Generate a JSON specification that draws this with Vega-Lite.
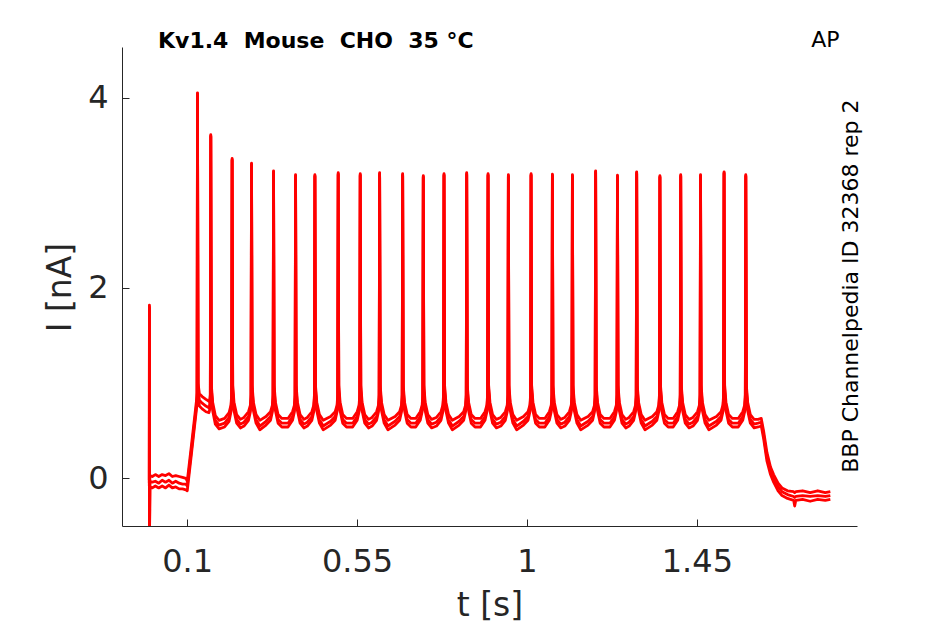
{
  "$schema": "https://vega.github.io/schema/vega-lite/v6.json",
  "width": 735,
  "height": 479,
  "autosize": "none",
  "padding": {"left": 122, "top": 47, "right": 88, "bottom": 98},
  "background": "white",
  "title": {
    "text": "Kv1.4\u00a0 Mouse\u00a0 CHO\u00a0 35 °C",
    "anchor": "start",
    "frame": "group",
    "dx": 36,
    "offset": -41,
    "baseline": "alphabetic",
    "font": "DejaVu Sans",
    "fontSize": 22,
    "fontWeight": "bold",
    "color": "#000000"
  },
  "config": {
    "view": {"stroke": null},
    "axis": {
      "grid": false,
      "domainColor": "#262626",
      "domainWidth": 1,
      "tickColor": "#262626",
      "tickWidth": 1,
      "tickSize": -7,
      "labelColor": "#262626",
      "titleColor": "#262626",
      "labelFont": "DejaVu Sans",
      "titleFont": "DejaVu Sans",
      "labelFontSize": 32,
      "titleFontSize": 33,
      "titleFontWeight": "normal",
      "labelFlush": false
    }
  },
  "layer": [
    {
      "data": {
        "values": [
          {"t": 0, "a": -0.02, "b": -0.05, "c": -0.08},
          {"t": 0.0003, "a": 1.82, "b": 1.8, "c": 1.78},
          {"t": 0.0007, "a": -0.55, "b": -0.55, "c": -0.55},
          {"t": 0.0015, "a": 0.03, "b": -0.03, "c": -0.09},
          {"t": 0.008, "a": 0.02, "b": -0.04, "c": -0.1},
          {"t": 0.016, "a": 0.04, "b": -0.03, "c": -0.08},
          {"t": 0.025, "a": 0.02, "b": -0.05, "c": -0.1},
          {"t": 0.034, "a": 0.04, "b": -0.02, "c": -0.08},
          {"t": 0.043, "a": 0.03, "b": -0.04, "c": -0.1},
          {"t": 0.052, "a": 0.05, "b": -0.02, "c": -0.07},
          {"t": 0.061, "a": 0.02, "b": -0.05, "c": -0.1},
          {"t": 0.07, "a": 0.03, "b": -0.03, "c": -0.09},
          {"t": 0.079, "a": 0.02, "b": -0.05, "c": -0.11},
          {"t": 0.088, "a": 0.01, "b": -0.06, "c": -0.11},
          {"t": 0.097, "a": 0.0, "b": -0.06, "c": -0.12},
          {"t": 0.1005, "a": -0.03, "b": -0.08, "c": -0.13},
          {"t": 0.1125, "a": 0.38, "b": 0.33, "c": 0.29},
          {"t": 0.125, "a": 0.82, "b": 0.77, "c": 0.73},
          {"t": 0.1266, "a": 0.9, "b": 0.86, "c": 0.83},
          {"t": 0.1276, "a": 4.05, "b": 4.04, "c": 4.03},
          {"t": 0.1291, "a": 1.0, "b": 0.95, "c": 0.9},
          {"t": 0.1326, "a": 0.89, "b": 0.82, "c": 0.76},
          {"t": 0.14, "a": 0.86, "b": 0.79, "c": 0.73},
          {"t": 0.15, "a": 0.83, "b": 0.76, "c": 0.7},
          {"t": 0.158, "a": 0.81, "b": 0.74, "c": 0.69},
          {"t": 0.1598, "a": 0.82, "b": 0.76, "c": 0.72},
          {"t": 0.1616, "a": 0.88, "b": 0.85, "c": 0.82},
          {"t": 0.1628, "a": 3.61, "b": 3.6, "c": 3.59},
          {"t": 0.1643, "a": 0.98, "b": 0.94, "c": 0.9},
          {"t": 0.1678, "a": 0.8, "b": 0.75, "c": 0.71},
          {"t": 0.1748, "a": 0.66, "b": 0.61, "c": 0.57},
          {"t": 0.1848, "a": 0.61, "b": 0.56, "c": 0.52},
          {"t": 0.1993, "a": 0.63, "b": 0.58, "c": 0.54},
          {"t": 0.2113, "a": 0.69, "b": 0.64, "c": 0.6},
          {"t": 0.2163, "a": 0.77, "b": 0.73, "c": 0.7},
          {"t": 0.2181, "a": 0.88, "b": 0.85, "c": 0.82},
          {"t": 0.2193, "a": 3.36, "b": 3.35, "c": 3.34},
          {"t": 0.2208, "a": 0.98, "b": 0.94, "c": 0.9},
          {"t": 0.2243, "a": 0.8, "b": 0.75, "c": 0.71},
          {"t": 0.2313, "a": 0.67, "b": 0.62, "c": 0.58},
          {"t": 0.2413, "a": 0.62, "b": 0.57, "c": 0.53},
          {"t": 0.2507, "a": 0.64, "b": 0.59, "c": 0.55},
          {"t": 0.2627, "a": 0.7, "b": 0.65, "c": 0.61},
          {"t": 0.2677, "a": 0.77, "b": 0.73, "c": 0.7},
          {"t": 0.2695, "a": 0.88, "b": 0.85, "c": 0.82},
          {"t": 0.2707, "a": 3.31, "b": 3.3, "c": 3.29},
          {"t": 0.2722, "a": 0.98, "b": 0.94, "c": 0.9},
          {"t": 0.2757, "a": 0.8, "b": 0.75, "c": 0.71},
          {"t": 0.2827, "a": 0.67, "b": 0.62, "c": 0.58},
          {"t": 0.2927, "a": 0.61, "b": 0.55, "c": 0.51},
          {"t": 0.309, "a": 0.65, "b": 0.6, "c": 0.56},
          {"t": 0.321, "a": 0.7, "b": 0.65, "c": 0.61},
          {"t": 0.326, "a": 0.77, "b": 0.73, "c": 0.7},
          {"t": 0.3278, "a": 0.88, "b": 0.85, "c": 0.82},
          {"t": 0.329, "a": 3.23, "b": 3.22, "c": 3.21},
          {"t": 0.3305, "a": 0.98, "b": 0.94, "c": 0.9},
          {"t": 0.334, "a": 0.8, "b": 0.75, "c": 0.71},
          {"t": 0.341, "a": 0.67, "b": 0.62, "c": 0.58},
          {"t": 0.351, "a": 0.63, "b": 0.58, "c": 0.54},
          {"t": 0.3673, "a": 0.63, "b": 0.58, "c": 0.54},
          {"t": 0.3793, "a": 0.7, "b": 0.65, "c": 0.61},
          {"t": 0.3843, "a": 0.77, "b": 0.73, "c": 0.7},
          {"t": 0.3861, "a": 0.88, "b": 0.85, "c": 0.82},
          {"t": 0.3873, "a": 3.19, "b": 3.18, "c": 3.17},
          {"t": 0.3888, "a": 0.98, "b": 0.94, "c": 0.9},
          {"t": 0.3923, "a": 0.8, "b": 0.75, "c": 0.71},
          {"t": 0.3993, "a": 0.67, "b": 0.62, "c": 0.58},
          {"t": 0.4093, "a": 0.62, "b": 0.57, "c": 0.53},
          {"t": 0.4185, "a": 0.64, "b": 0.59, "c": 0.55},
          {"t": 0.4305, "a": 0.7, "b": 0.65, "c": 0.61},
          {"t": 0.4355, "a": 0.77, "b": 0.73, "c": 0.7},
          {"t": 0.4373, "a": 0.88, "b": 0.85, "c": 0.82},
          {"t": 0.4385, "a": 3.19, "b": 3.18, "c": 3.17},
          {"t": 0.44, "a": 0.98, "b": 0.94, "c": 0.9},
          {"t": 0.4435, "a": 0.8, "b": 0.75, "c": 0.71},
          {"t": 0.4505, "a": 0.67, "b": 0.62, "c": 0.58},
          {"t": 0.4605, "a": 0.61, "b": 0.55, "c": 0.51},
          {"t": 0.4802, "a": 0.65, "b": 0.6, "c": 0.56},
          {"t": 0.4922, "a": 0.7, "b": 0.65, "c": 0.61},
          {"t": 0.4972, "a": 0.77, "b": 0.73, "c": 0.7},
          {"t": 0.499, "a": 0.88, "b": 0.85, "c": 0.82},
          {"t": 0.5002, "a": 3.21, "b": 3.2, "c": 3.19},
          {"t": 0.5017, "a": 0.98, "b": 0.94, "c": 0.9},
          {"t": 0.5052, "a": 0.8, "b": 0.75, "c": 0.71},
          {"t": 0.5122, "a": 0.67, "b": 0.62, "c": 0.58},
          {"t": 0.5222, "a": 0.63, "b": 0.58, "c": 0.54},
          {"t": 0.5385, "a": 0.63, "b": 0.58, "c": 0.54},
          {"t": 0.5505, "a": 0.7, "b": 0.65, "c": 0.61},
          {"t": 0.5555, "a": 0.77, "b": 0.73, "c": 0.7},
          {"t": 0.5573, "a": 0.88, "b": 0.85, "c": 0.82},
          {"t": 0.5585, "a": 3.2, "b": 3.19, "c": 3.18},
          {"t": 0.56, "a": 0.98, "b": 0.94, "c": 0.9},
          {"t": 0.5635, "a": 0.8, "b": 0.75, "c": 0.71},
          {"t": 0.5705, "a": 0.67, "b": 0.62, "c": 0.58},
          {"t": 0.5805, "a": 0.62, "b": 0.57, "c": 0.53},
          {"t": 0.5899, "a": 0.64, "b": 0.59, "c": 0.55},
          {"t": 0.6019, "a": 0.7, "b": 0.65, "c": 0.61},
          {"t": 0.6069, "a": 0.77, "b": 0.73, "c": 0.7},
          {"t": 0.6087, "a": 0.88, "b": 0.85, "c": 0.82},
          {"t": 0.6099, "a": 3.21, "b": 3.2, "c": 3.19},
          {"t": 0.6114, "a": 0.98, "b": 0.94, "c": 0.9},
          {"t": 0.6149, "a": 0.8, "b": 0.75, "c": 0.71},
          {"t": 0.6219, "a": 0.67, "b": 0.62, "c": 0.58},
          {"t": 0.6319, "a": 0.61, "b": 0.55, "c": 0.51},
          {"t": 0.6509, "a": 0.65, "b": 0.6, "c": 0.56},
          {"t": 0.6629, "a": 0.7, "b": 0.65, "c": 0.61},
          {"t": 0.6679, "a": 0.77, "b": 0.73, "c": 0.7},
          {"t": 0.6697, "a": 0.88, "b": 0.85, "c": 0.82},
          {"t": 0.6709, "a": 3.2, "b": 3.19, "c": 3.18},
          {"t": 0.6724, "a": 0.98, "b": 0.94, "c": 0.9},
          {"t": 0.6759, "a": 0.8, "b": 0.75, "c": 0.71},
          {"t": 0.6829, "a": 0.67, "b": 0.62, "c": 0.58},
          {"t": 0.6929, "a": 0.63, "b": 0.58, "c": 0.54},
          {"t": 0.7055, "a": 0.63, "b": 0.58, "c": 0.54},
          {"t": 0.7175, "a": 0.7, "b": 0.65, "c": 0.61},
          {"t": 0.7225, "a": 0.77, "b": 0.73, "c": 0.7},
          {"t": 0.7243, "a": 0.88, "b": 0.85, "c": 0.82},
          {"t": 0.7255, "a": 3.18, "b": 3.17, "c": 3.16},
          {"t": 0.727, "a": 0.98, "b": 0.94, "c": 0.9},
          {"t": 0.7305, "a": 0.8, "b": 0.75, "c": 0.71},
          {"t": 0.7375, "a": 0.67, "b": 0.62, "c": 0.58},
          {"t": 0.7475, "a": 0.62, "b": 0.57, "c": 0.53},
          {"t": 0.7604, "a": 0.64, "b": 0.59, "c": 0.55},
          {"t": 0.7724, "a": 0.7, "b": 0.65, "c": 0.61},
          {"t": 0.7774, "a": 0.77, "b": 0.73, "c": 0.7},
          {"t": 0.7792, "a": 0.88, "b": 0.85, "c": 0.82},
          {"t": 0.7804, "a": 3.2, "b": 3.19, "c": 3.18},
          {"t": 0.7819, "a": 0.98, "b": 0.94, "c": 0.9},
          {"t": 0.7854, "a": 0.8, "b": 0.75, "c": 0.71},
          {"t": 0.7924, "a": 0.67, "b": 0.62, "c": 0.58},
          {"t": 0.8024, "a": 0.61, "b": 0.55, "c": 0.51},
          {"t": 0.8205, "a": 0.65, "b": 0.6, "c": 0.56},
          {"t": 0.8325, "a": 0.7, "b": 0.65, "c": 0.61},
          {"t": 0.8375, "a": 0.77, "b": 0.73, "c": 0.7},
          {"t": 0.8393, "a": 0.88, "b": 0.85, "c": 0.82},
          {"t": 0.8405, "a": 3.21, "b": 3.2, "c": 3.19},
          {"t": 0.842, "a": 0.98, "b": 0.94, "c": 0.9},
          {"t": 0.8455, "a": 0.8, "b": 0.75, "c": 0.71},
          {"t": 0.8525, "a": 0.67, "b": 0.62, "c": 0.58},
          {"t": 0.8625, "a": 0.63, "b": 0.58, "c": 0.54},
          {"t": 0.877, "a": 0.63, "b": 0.58, "c": 0.54},
          {"t": 0.889, "a": 0.7, "b": 0.65, "c": 0.61},
          {"t": 0.894, "a": 0.77, "b": 0.73, "c": 0.7},
          {"t": 0.8958, "a": 0.88, "b": 0.85, "c": 0.82},
          {"t": 0.897, "a": 3.2, "b": 3.19, "c": 3.18},
          {"t": 0.8985, "a": 0.98, "b": 0.94, "c": 0.9},
          {"t": 0.902, "a": 0.8, "b": 0.75, "c": 0.71},
          {"t": 0.909, "a": 0.67, "b": 0.62, "c": 0.58},
          {"t": 0.919, "a": 0.62, "b": 0.57, "c": 0.53},
          {"t": 0.9308, "a": 0.64, "b": 0.59, "c": 0.55},
          {"t": 0.9428, "a": 0.7, "b": 0.65, "c": 0.61},
          {"t": 0.9478, "a": 0.77, "b": 0.73, "c": 0.7},
          {"t": 0.9496, "a": 0.88, "b": 0.85, "c": 0.82},
          {"t": 0.9508, "a": 3.19, "b": 3.18, "c": 3.17},
          {"t": 0.9523, "a": 0.98, "b": 0.94, "c": 0.9},
          {"t": 0.9558, "a": 0.8, "b": 0.75, "c": 0.71},
          {"t": 0.9628, "a": 0.67, "b": 0.62, "c": 0.58},
          {"t": 0.9728, "a": 0.61, "b": 0.55, "c": 0.51},
          {"t": 0.9909, "a": 0.65, "b": 0.6, "c": 0.56},
          {"t": 1.0029, "a": 0.7, "b": 0.65, "c": 0.61},
          {"t": 1.0079, "a": 0.77, "b": 0.73, "c": 0.7},
          {"t": 1.0097, "a": 0.88, "b": 0.85, "c": 0.82},
          {"t": 1.0109, "a": 3.2, "b": 3.19, "c": 3.18},
          {"t": 1.0124, "a": 0.98, "b": 0.94, "c": 0.9},
          {"t": 1.0159, "a": 0.8, "b": 0.75, "c": 0.71},
          {"t": 1.0229, "a": 0.67, "b": 0.62, "c": 0.58},
          {"t": 1.0329, "a": 0.63, "b": 0.58, "c": 0.54},
          {"t": 1.0474, "a": 0.63, "b": 0.58, "c": 0.54},
          {"t": 1.0594, "a": 0.7, "b": 0.65, "c": 0.61},
          {"t": 1.0644, "a": 0.77, "b": 0.73, "c": 0.7},
          {"t": 1.0662, "a": 0.88, "b": 0.85, "c": 0.82},
          {"t": 1.0674, "a": 3.195, "b": 3.185, "c": 3.175},
          {"t": 1.0689, "a": 0.98, "b": 0.94, "c": 0.9},
          {"t": 1.0724, "a": 0.8, "b": 0.75, "c": 0.71},
          {"t": 1.0794, "a": 0.67, "b": 0.62, "c": 0.58},
          {"t": 1.0894, "a": 0.62, "b": 0.57, "c": 0.53},
          {"t": 1.1004, "a": 0.64, "b": 0.59, "c": 0.55},
          {"t": 1.1124, "a": 0.7, "b": 0.65, "c": 0.61},
          {"t": 1.1174, "a": 0.77, "b": 0.73, "c": 0.7},
          {"t": 1.1192, "a": 0.88, "b": 0.85, "c": 0.82},
          {"t": 1.1204, "a": 3.19, "b": 3.18, "c": 3.17},
          {"t": 1.1219, "a": 0.98, "b": 0.94, "c": 0.9},
          {"t": 1.1254, "a": 0.8, "b": 0.75, "c": 0.71},
          {"t": 1.1324, "a": 0.67, "b": 0.62, "c": 0.58},
          {"t": 1.1424, "a": 0.61, "b": 0.55, "c": 0.51},
          {"t": 1.1619, "a": 0.65, "b": 0.6, "c": 0.56},
          {"t": 1.1739, "a": 0.7, "b": 0.65, "c": 0.61},
          {"t": 1.1789, "a": 0.77, "b": 0.73, "c": 0.7},
          {"t": 1.1807, "a": 0.88, "b": 0.85, "c": 0.82},
          {"t": 1.1819, "a": 3.23, "b": 3.22, "c": 3.21},
          {"t": 1.1834, "a": 0.98, "b": 0.94, "c": 0.9},
          {"t": 1.1869, "a": 0.8, "b": 0.75, "c": 0.71},
          {"t": 1.1939, "a": 0.67, "b": 0.62, "c": 0.58},
          {"t": 1.2039, "a": 0.63, "b": 0.58, "c": 0.54},
          {"t": 1.2197, "a": 0.63, "b": 0.58, "c": 0.54},
          {"t": 1.2317, "a": 0.7, "b": 0.65, "c": 0.61},
          {"t": 1.2367, "a": 0.77, "b": 0.73, "c": 0.7},
          {"t": 1.2385, "a": 0.88, "b": 0.85, "c": 0.82},
          {"t": 1.2397, "a": 3.185, "b": 3.175, "c": 3.165},
          {"t": 1.2412, "a": 0.98, "b": 0.94, "c": 0.9},
          {"t": 1.2447, "a": 0.8, "b": 0.75, "c": 0.71},
          {"t": 1.2517, "a": 0.67, "b": 0.62, "c": 0.58},
          {"t": 1.2617, "a": 0.62, "b": 0.57, "c": 0.53},
          {"t": 1.2706, "a": 0.64, "b": 0.59, "c": 0.55},
          {"t": 1.2826, "a": 0.7, "b": 0.65, "c": 0.61},
          {"t": 1.2876, "a": 0.77, "b": 0.73, "c": 0.7},
          {"t": 1.2894, "a": 0.88, "b": 0.85, "c": 0.82},
          {"t": 1.2906, "a": 3.22, "b": 3.21, "c": 3.2},
          {"t": 1.2921, "a": 0.98, "b": 0.94, "c": 0.9},
          {"t": 1.2956, "a": 0.8, "b": 0.75, "c": 0.71},
          {"t": 1.3026, "a": 0.67, "b": 0.62, "c": 0.58},
          {"t": 1.3126, "a": 0.61, "b": 0.55, "c": 0.51},
          {"t": 1.3321, "a": 0.65, "b": 0.6, "c": 0.56},
          {"t": 1.3441, "a": 0.7, "b": 0.65, "c": 0.61},
          {"t": 1.3491, "a": 0.77, "b": 0.73, "c": 0.7},
          {"t": 1.3509, "a": 0.88, "b": 0.85, "c": 0.82},
          {"t": 1.3521, "a": 3.18, "b": 3.17, "c": 3.16},
          {"t": 1.3536, "a": 0.98, "b": 0.94, "c": 0.9},
          {"t": 1.3571, "a": 0.8, "b": 0.75, "c": 0.71},
          {"t": 1.3641, "a": 0.67, "b": 0.62, "c": 0.58},
          {"t": 1.3741, "a": 0.63, "b": 0.58, "c": 0.54},
          {"t": 1.3872, "a": 0.63, "b": 0.58, "c": 0.54},
          {"t": 1.3992, "a": 0.7, "b": 0.65, "c": 0.61},
          {"t": 1.4042, "a": 0.77, "b": 0.73, "c": 0.7},
          {"t": 1.406, "a": 0.88, "b": 0.85, "c": 0.82},
          {"t": 1.4072, "a": 3.19, "b": 3.18, "c": 3.17},
          {"t": 1.4087, "a": 0.98, "b": 0.94, "c": 0.9},
          {"t": 1.4122, "a": 0.8, "b": 0.75, "c": 0.71},
          {"t": 1.4192, "a": 0.67, "b": 0.62, "c": 0.58},
          {"t": 1.4292, "a": 0.62, "b": 0.57, "c": 0.53},
          {"t": 1.4397, "a": 0.64, "b": 0.59, "c": 0.55},
          {"t": 1.4517, "a": 0.7, "b": 0.65, "c": 0.61},
          {"t": 1.4567, "a": 0.77, "b": 0.73, "c": 0.7},
          {"t": 1.4585, "a": 0.88, "b": 0.85, "c": 0.82},
          {"t": 1.4597, "a": 3.19, "b": 3.18, "c": 3.17},
          {"t": 1.4612, "a": 0.98, "b": 0.94, "c": 0.9},
          {"t": 1.4647, "a": 0.8, "b": 0.75, "c": 0.71},
          {"t": 1.4717, "a": 0.67, "b": 0.62, "c": 0.58},
          {"t": 1.4817, "a": 0.61, "b": 0.55, "c": 0.51},
          {"t": 1.502, "a": 0.65, "b": 0.6, "c": 0.56},
          {"t": 1.514, "a": 0.7, "b": 0.65, "c": 0.61},
          {"t": 1.519, "a": 0.77, "b": 0.73, "c": 0.7},
          {"t": 1.5208, "a": 0.88, "b": 0.85, "c": 0.82},
          {"t": 1.522, "a": 3.22, "b": 3.21, "c": 3.2},
          {"t": 1.5235, "a": 0.98, "b": 0.94, "c": 0.9},
          {"t": 1.527, "a": 0.8, "b": 0.75, "c": 0.71},
          {"t": 1.534, "a": 0.67, "b": 0.62, "c": 0.58},
          {"t": 1.544, "a": 0.63, "b": 0.58, "c": 0.54},
          {"t": 1.5595, "a": 0.63, "b": 0.58, "c": 0.54},
          {"t": 1.5715, "a": 0.7, "b": 0.65, "c": 0.61},
          {"t": 1.5765, "a": 0.77, "b": 0.73, "c": 0.7},
          {"t": 1.5783, "a": 0.88, "b": 0.85, "c": 0.82},
          {"t": 1.5795, "a": 3.19, "b": 3.18, "c": 3.17},
          {"t": 1.581, "a": 0.98, "b": 0.94, "c": 0.9},
          {"t": 1.5845, "a": 0.8, "b": 0.75, "c": 0.71},
          {"t": 1.5915, "a": 0.67, "b": 0.62, "c": 0.58},
          {"t": 1.6015, "a": 0.62, "b": 0.57, "c": 0.53},
          {"t": 1.612, "a": 0.62, "b": 0.58, "c": 0.54},
          {"t": 1.6205, "a": 0.63, "b": 0.59, "c": 0.55},
          {"t": 1.6266, "a": 0.5, "b": 0.46, "c": 0.42},
          {"t": 1.6356, "a": 0.27, "b": 0.22, "c": 0.18},
          {"t": 1.645, "a": 0.12, "b": 0.08, "c": 0.04},
          {"t": 1.6532, "a": 0.04, "b": 0.0, "c": -0.04},
          {"t": 1.665, "a": -0.05, "b": -0.09, "c": -0.13},
          {"t": 1.6754, "a": -0.1, "b": -0.14, "c": -0.18},
          {"t": 1.69, "a": -0.13, "b": -0.17, "c": -0.21},
          {"t": 1.7062, "a": -0.14, "b": -0.19, "c": -0.23},
          {"t": 1.709, "a": -0.15, "b": -0.2, "c": -0.29},
          {"t": 1.712, "a": -0.14, "b": -0.19, "c": -0.23},
          {"t": 1.73, "a": -0.13, "b": -0.18, "c": -0.22},
          {"t": 1.75, "a": -0.15, "b": -0.19, "c": -0.24},
          {"t": 1.77, "a": -0.13, "b": -0.18, "c": -0.22},
          {"t": 1.79, "a": -0.15, "b": -0.19, "c": -0.23},
          {"t": 1.8034, "a": -0.14, "b": -0.18, "c": -0.22}
        ]
      },
      "transform": [{"fold": ["a", "b", "c"], "as": ["trace", "i"]}],
      "mark": {"type": "line", "color": "#ff0000", "strokeWidth": 2.8, "clip": true, "strokeJoin": "round"},
      "encoding": {
        "x": {
          "field": "t",
          "type": "quantitative",
          "scale": {"domain": [-0.0723, 1.874], "nice": false, "zero": false},
          "axis": {
            "values": [0.1, 0.55, 1, 1.45],
            "labelExpr": "'' + datum.value",
            "title": "t [s]",
            "labelPadding": 27,
            "titleY": 89,
            "titleBaseline": "alphabetic"
          }
        },
        "y": {
          "field": "i",
          "type": "quantitative",
          "scale": {"domain": [-0.5, 4.531], "nice": false, "zero": false},
          "axis": {
            "values": [0, 2, 4],
            "labelExpr": "'' + datum.value",
            "title": "I [nA]",
            "labelPadding": 21,
            "titleX": -52,
            "titleY": 240,
            "titleAngle": -90,
            "titleAlign": "center",
            "titleBaseline": "alphabetic"
          }
        },
        "detail": {"field": "trace"}
      }
    },
    {
      "data": {"values": [{"t": 1.7902, "i": 4.533, "label": "AP"}]},
      "mark": {"type": "text", "font": "DejaVu Sans", "fontSize": 22, "color": "#000000", "align": "center", "baseline": "alphabetic"},
      "encoding": {
        "x": {"field": "t", "type": "quantitative", "scale": {"domain": [-0.0723, 1.874], "nice": false, "zero": false}},
        "y": {"field": "i", "type": "quantitative", "scale": {"domain": [-0.5, 4.531], "nice": false, "zero": false}},
        "text": {"field": "label"}
      }
    },
    {
      "data": {"values": [{"t": 1.8776, "i": 2.019, "label": "BBP Channelpedia ID 32368 rep 2"}]},
      "mark": {"type": "text", "font": "DejaVu Sans", "fontSize": 22, "color": "#000000", "align": "center", "baseline": "alphabetic", "angle": 270},
      "encoding": {
        "x": {"field": "t", "type": "quantitative", "scale": {"domain": [-0.0723, 1.874], "nice": false, "zero": false}},
        "y": {"field": "i", "type": "quantitative", "scale": {"domain": [-0.5, 4.531], "nice": false, "zero": false}},
        "text": {"field": "label"}
      }
    }
  ]
}
